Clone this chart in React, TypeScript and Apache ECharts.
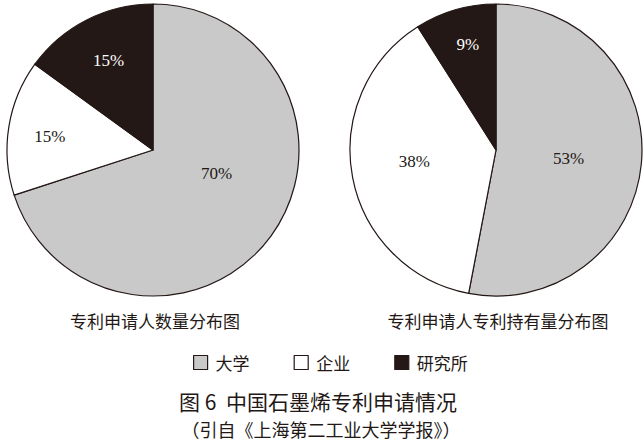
import React, { useEffect, useRef } from "react";
import * as echarts from "echarts";

const categories = ["大学", "企业", "研究所"];
const applicantCounts = [70, 15, 15];
const patentHoldings = [53, 38, 9];
const pieTitles = ["专利申请人数量分布图", "专利申请人专利持有量分布图"];
const figureCaption = "图 6  中国石墨烯专利申请情况";
const figureSource = "（引自《上海第二工业大学学报》）";

const colors = ["#c9c9c9", "#ffffff", "#231815"];
const labelColors = ["#231815", "#231815", "#ffffff"];
const leftOffsets = [[2, -21], [-28, -2], [-10, -22]];
const rightOffsets = [[-3, 1], [-7, -3], [-7, -33]];

const CJK = "Noto Sans CJK SC";
const NUM = "'Times New Roman', 'Liberation Serif', serif";

function buildData(values: number[], offsets: number[][]) {
  return categories.map((name, i) => ({
    name,
    value: values[i],
    itemStyle: { color: colors[i] },
    label: { color: labelColors[i], offset: offsets[i], fontFamily: NUM, fontSize: 17 },
  }));
}

export default function App() {
  const ref = useRef<HTMLDivElement>(null);
  useEffect(() => {
    document.body.style.margin = "0";
    const chart = echarts.init(ref.current!, null, { renderer: "svg" });
    const pieBase = {
      type: "pie",
      radius: 146,
      startAngle: 90,
      clockwise: true,
      avoidLabelOverlap: false,
      silent: true,
      label: {
        show: true,
        position: "inside",
        formatter: "{c}%",
        fontFamily: NUM,
        fontSize: 17,
      },
      labelLine: { show: false },
      itemStyle: { borderColor: "#231815", borderWidth: 1.2 },
      emphasis: { disabled: true },
    };
    chart.setOption({
      animation: false,
      backgroundColor: "#ffffff",
      textStyle: { fontFamily: NUM },
      legend: {
        data: categories,
        left: 193,
        top: 354,
        padding: 0,
        itemWidth: 14,
        itemHeight: 14,
        itemGap: 44,
        icon: "rect",
        itemStyle: { borderColor: "#231815", borderWidth: 1.2 },
        textStyle: { fontFamily: CJK, fontSize: 17, color: "#231815", padding: [0, 0, 0, 3] },
      },
      series: [
        { ...pieBase, name: pieTitles[0], center: [153, 150], data: buildData(applicantCounts, leftOffsets) },
        { ...pieBase, name: pieTitles[1], center: [496, 150], data: buildData(patentHoldings, rightOffsets) },
      ],
      graphic: [
        {
          type: "text",
          x: 155,
          y: 320,
          style: { text: pieTitles[0], fontFamily: CJK, fontSize: 17, fill: "#231815", textAlign: "center", textVerticalAlign: "middle" },
        },
        {
          type: "text",
          x: 498,
          y: 320,
          style: { text: pieTitles[1], fontFamily: CJK, fontSize: 17, fill: "#231815", textAlign: "center", textVerticalAlign: "middle" },
        },
        {
          type: "text",
          x: 318,
          y: 401,
          style: { text: figureCaption, fontFamily: CJK, fontSize: 21, fill: "#231815", textAlign: "center", textVerticalAlign: "middle" },
        },
        {
          type: "text",
          x: 321,
          y: 429,
          style: { text: figureSource, fontFamily: CJK, fontSize: 18, fill: "#231815", textAlign: "center", textVerticalAlign: "middle" },
        },
      ],
    });
    return () => chart.dispose();
  }, []);
  return <div ref={ref} style={{ position: "absolute", left: 0, top: 0, width: 644, height: 443 }} />;
}
